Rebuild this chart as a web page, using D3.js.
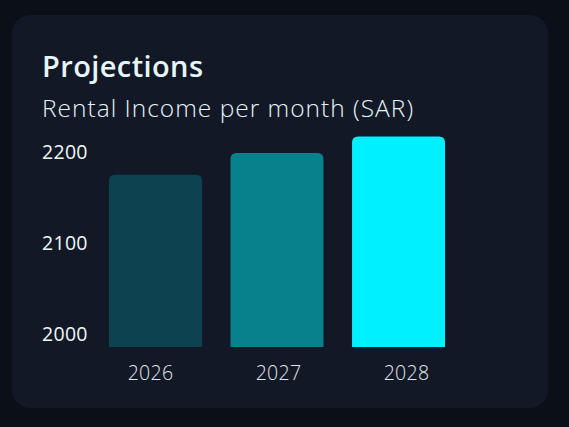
<!DOCTYPE html>
<html>
    <head>
        <meta charset="utf-8">
        <title>Projections</title>
        <style>
            html, body {
                margin: 0;
                padding: 0;
                background: #0b0f18;
            }
            body {
                font-family: "Open Sans", "Noto Sans", Arial, sans-serif;
            }
            svg { display: block; }
        </style>
        <script src="https://d3js.org/d3.v7.min.js"></script>
    </head>
    <body>
        <svg></svg>
        <script>
            // chart data
            const years = ['2026', '2027', '2028'];
            const income = [2175, 2199, 2217];
            const yTicks = [2000, 2100, 2200];
            const barColors = ['#0d4350', '#08818c', '#00f0ff'];

            const width = 569;
            const height = 427;

            const svg = d3.select('svg')
                .attr('width', width)
                .attr('height', height);

            // card
            svg.append('rect')
                .attr('x', 12).attr('y', 15)
                .attr('width', 536).attr('height', 393)
                .attr('rx', 18)
                .style('fill', '#121826');

            svg.append('text')
                .attr('x', 42).attr('y', 77)
                .style('font-size', '29px')
                .style('font-weight', 600)
                .style('letter-spacing', '0.4px')
                .style('fill', '#e6f6f6')
                .text('Projections');

            svg.append('text')
                .attr('x', 42).attr('y', 117)
                .style('font-size', '24.5px')
                .style('font-weight', 300)
                .style('letter-spacing', '1px')
                .style('fill', '#e6f6f6')
                .text('Rental Income per month (SAR)');

            const plotBottom = 347;

            const x = d3.scaleBand()
                .domain(years)
                .range([109, 445])
                .paddingInner(0.235)
                .paddingOuter(0);

            const xLabel = d3.scalePoint()
                .domain(years)
                .range([150, 406]);

            const y = d3.scaleLinear()
                .domain([2000, 2200])
                .range([334, 152]);

            const r = 6;
            const barPath = (x0, y0, w, h) =>
                'M' + x0 + ',' + (y0 + h) +
                'V' + (y0 + r) +
                'Q' + x0 + ',' + y0 + ' ' + (x0 + r) + ',' + y0 +
                'H' + (x0 + w - r) +
                'Q' + (x0 + w) + ',' + y0 + ' ' + (x0 + w) + ',' + (y0 + r) +
                'V' + (y0 + h) + 'Z';

            svg.append('g')
                .selectAll('path')
                .data(years)
                .enter().append('path')
                .attr('d', (d, i) => barPath(x(d), y(income[i]), x.bandwidth(), plotBottom - y(income[i])))
                .style('fill', (d, i) => barColors[i]);

            // y axis labels
            const yAxis = svg.append('g')
                .attr('transform', 'translate(42,0)')
                .call(d3.axisLeft(y).tickValues(yTicks).tickSize(0).tickFormat(d3.format('d')));
            yAxis.select('.domain').remove();
            yAxis.selectAll('text')
                .attr('x', 0)
                .attr('dy', '0.35em')
                .style('text-anchor', 'start')
                .style('font-family', '"Open Sans", sans-serif')
                .style('font-size', '19.5px')
                .style('font-weight', 500)
                .style('letter-spacing', '0.3px')
                .style('fill', '#eef8f8');

            // x axis labels
            const xAxis = svg.append('g')
                .attr('transform', 'translate(0,' + 366 + ')')
                .call(d3.axisBottom(xLabel).tickSize(0));
            xAxis.select('.domain').remove();
            xAxis.selectAll('text')
                .attr('y', 0)
                .attr('dy', '0.71em')
                .style('font-family', '"Open Sans", sans-serif')
                .style('font-size', '19.5px')
                .style('font-weight', 300)
                .style('letter-spacing', '0.3px')
                .style('fill', '#e2e9eb');
        </script>
    </body>
</html>
